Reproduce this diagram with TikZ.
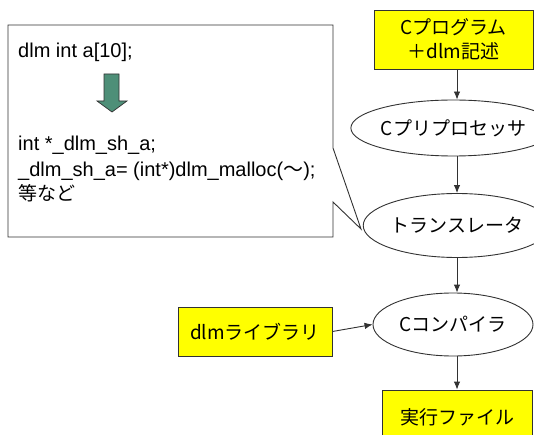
\documentclass[tikz,border=0pt]{standalone}
\usepackage{fontspec}
\setmainfont{Liberation Sans}
\newfontfamily\jp{Noto Sans CJK JP}
\usetikzlibrary{arrows.meta,shapes.geometric}
\definecolor{ylw}{RGB}{255,255,0}
\definecolor{edge}{RGB}{50,50,50}
\definecolor{grn}{RGB}{78,143,120}
\begin{document}
\begin{tikzpicture}[x=1pt,y=-1pt,
  ln/.style={draw=edge, line width=0.9pt},
  arr/.style={ln, -{Latex[length=8pt,width=6.5pt]}},
  ybox/.style={ln, fill=ylw, inner sep=0pt, align=center,
    font=\jp\fontsize{19}{24}\selectfont},
  oval/.style={ln, ellipse, fill=white, inner sep=0pt,
    font=\jp\fontsize{19}{24}\selectfont},
  code/.style={anchor=base west, inner sep=0pt, font=\fontsize{20}{24}\selectfont},
  jcode/.style={anchor=base west, inner sep=0pt, font=\jp\fontsize{19}{24}\selectfont}
]
\useasboundingbox (0,0) rectangle (534,435);
\fill[white] (0,0) rectangle (534,435);
\clip (0,0) rectangle (534,435);

% callout
\draw[ln, fill=white] (8,25) -- (333,25) -- (333,148) -- (361,229) -- (333,202)
  -- (333,237) -- (8,237) -- cycle;
\node[code] (t1) at (18,58) {dlm int a[10];};
\node[code] (t2) at (18,151) {int *\_dlm\_sh\_a;};
\node[code] (t3) at (18,177) {\_dlm\_sh\_a= (int*)dlm\_malloc({\jp ～});};
\node[jcode] (t4) at (18,201) {等など};
\draw[draw=edge, line width=0.7pt, fill=grn] (104,74) -- (119,74) -- (119,101) -- (127,101)
  -- (112,112) -- (97,101) -- (104,101) -- cycle;

% right column
\coordinate (ar) at (457,0);
\node[ybox, minimum width=159pt, minimum height=59pt] (b1) at (453.5,39.5)
  {Cプログラム\\＋dlm記述};
\node[oval, minimum width=157pt, minimum height=56pt] (e2) at (453.5,128) {Cプリプロセッサ};
\node[oval, minimum width=154pt, minimum height=64pt] (e3) at (457,225.5) {トランスレータ};
\node[oval, minimum width=160pt, minimum height=63pt] (e4) at (453,324.5) {Cコンパイラ};
\node[ybox, minimum width=150pt, minimum height=54pt] (b5) at (457,417) {実行ファイル};
\node[ybox, minimum width=154pt, minimum height=49pt] (lib) at (255,331.5) {dlmライブラリ};

\draw[arr] (b1.south -| ar) -- (e2.north -| ar);
\draw[arr] (e2.south -| ar) -- (e3.north -| ar);
\draw[arr] (e3.south -| ar) -- (e4.north -| ar);
\draw[arr] (e4.south -| ar) -- (b5.north -| ar);
\draw[arr] (lib.east) -- (e4.west);
\end{tikzpicture}
\end{document}
